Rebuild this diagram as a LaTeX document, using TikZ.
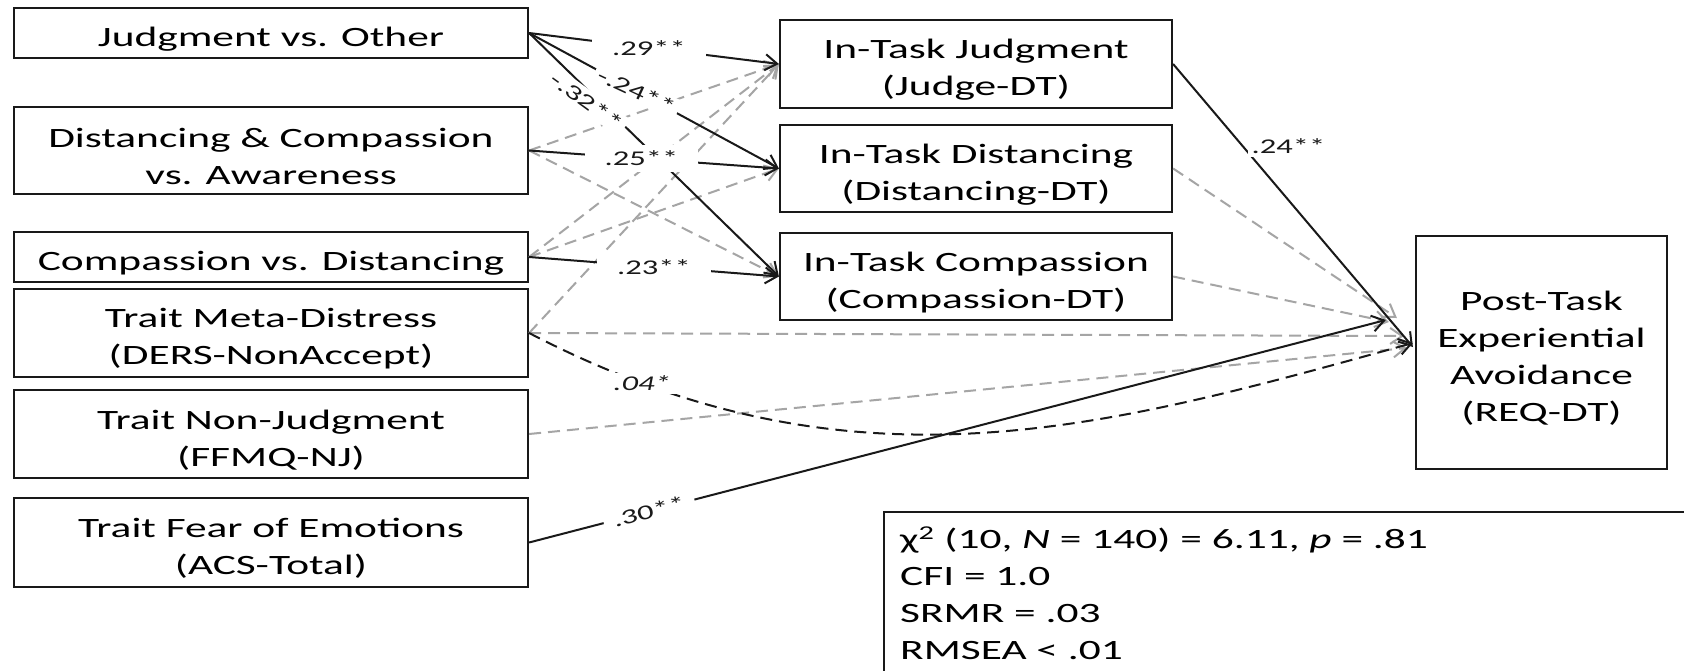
\documentclass[tikz,border=0pt]{standalone}
\usepackage{fontspec}
\setmainfont{Carlito}[FakeStretch=1.55]
\usetikzlibrary{arrows.meta}
\usetikzlibrary{calc}
\definecolor{path-gray}{RGB}{165,165,165}
\definecolor{line-black}{RGB}{25,25,25}
\newcommand{\boxstrut}{\rule{0pt}{31pt}}

\begin{document}
\begin{tikzpicture}[x=1pt, y=-1pt,
  var-box/.style={draw=line-black, line width=2.2pt, inner sep=0pt, align=center, font=\fontsize{28}{37}\selectfont},
  sig-path/.style={line-black, line width=2pt, -{Straight Barb[length=12pt,width=16pt]}},
  ns-path/.style={path-gray, line width=2pt, dash pattern=on 12pt off 7pt, -{Straight Barb[length=12pt,width=16pt]}},
  neg-path/.style={line-black, line width=2pt, dash pattern=on 12pt off 7pt, -{Straight Barb[length=12pt,width=16pt]}},
  coef/.style={fill=white, inner xsep=20pt, inner ysep=6pt, font=\fontsize{21}{25}\selectfont, text=line-black},
  coef-tilt/.style={coef, inner xsep=4pt, inner ysep=3pt}]
\useasboundingbox (0,0) rectangle (1684,671);
\clip (0,0) rectangle (1684,671);
\fill[white] (0,0) rectangle (1684,671);

\node[var-box, minimum width=514pt, minimum height=50pt] (jdg-other) at (271,33) {\boxstrut Judgment vs. Other};
\node[var-box, minimum width=514pt, minimum height=87pt] (dist-comp) at (271,150.5) {\boxstrut Distancing \& Compassion\\vs. Awareness};
\node[var-box, minimum width=514pt, minimum height=50pt] (comp-dist) at (271,257) {\boxstrut Compassion vs. Distancing};
\node[var-box, minimum width=514pt, minimum height=88pt] (meta-distress) at (271,333) {\boxstrut Trait Meta-Distress\\(DERS-NonAccept)};
\node[var-box, minimum width=514pt, minimum height=88pt] (non-judgment) at (271,434) {\boxstrut Trait Non-Judgment\\(FFMQ-NJ)};
\node[var-box, minimum width=514pt, minimum height=89pt] (fear-emo) at (271,542.5) {\boxstrut Trait Fear of Emotions\\(ACS-Total)};

\node[var-box, minimum width=392pt, minimum height=88pt] (task-judge) at (976,64) {\boxstrut In-Task Judgment\\(Judge-DT)};
\node[var-box, minimum width=392pt, minimum height=87pt] (task-dist) at (976,168.5) {\boxstrut In-Task Distancing\\(Distancing-DT)};
\node[var-box, minimum width=392pt, minimum height=87pt] (task-comp) at (976,276.5) {\boxstrut In-Task Compassion\\(Compassion-DT)};

\node[var-box, minimum width=251pt, minimum height=233pt] (post-avoid) at (1541.5,352.5) {\boxstrut Post-Task\\Experiential\\Avoidance\\(REQ-DT)};

\node[draw=line-black, line width=2pt, inner sep=0pt, anchor=north west, minimum width=900pt, minimum height=300pt] (fit-box) at (883,511) {};
\node[anchor=north west, inner sep=0pt, align=left, font=\fontsize{28}{37}\selectfont] (fit-text) at ([shift={(17,16)}]fit-box.north west) {χ\textsuperscript{2} (10, \textit{N} = 140) = 6.11, \textit{p} = .81\\CFI = 1.0\\SRMR = .03\\RMSEA < .01};

\coordinate (tip-a) at ([shift={(-2,-5.5)}]post-avoid.west);
\coordinate (tip-b) at ([shift={(-29,-32.5)}]post-avoid.west);
\coordinate (tip-c) at ([shift={(-18,-34.5)}]post-avoid.west);
\coordinate (tip-d) at ([shift={(-26,-30.5)}]post-avoid.west);
\coordinate (tip-e) at ([shift={(-11,-16.5)}]post-avoid.west);
\coordinate (tip-f) at ([shift={(-8,-4.5)}]post-avoid.west);
\coordinate (tip-g) at ([shift={(-2,-9.5)}]post-avoid.west);

\draw[ns-path] (dist-comp.east) -- (task-judge.west);
\draw[ns-path] (dist-comp.east) -- (task-comp.west);
\draw[ns-path] (comp-dist.east) -- (task-judge.west);
\draw[ns-path] (comp-dist.east) -- (task-dist.west);
\draw[ns-path] (meta-distress.east) -- (task-judge.west);
\draw[ns-path] (meta-distress.east) -- (tip-e);
\draw[ns-path] (non-judgment.east) -- (tip-f);
\draw[ns-path] (task-dist.east) -- (tip-c);
\draw[ns-path] (task-comp.east) -- (tip-d);
\draw[neg-path] (meta-distress.east) .. controls +(322,167) and +(-314,87) .. node[coef-tilt, pos=0.12, inner xsep=8pt, font=\fontsize{21}{25}\selectfont\itshape] {.04*} (tip-g);

\draw[sig-path] (jdg-other.east) -- node[coef-tilt, pos=0.28, xshift=-12pt, rotate=-36] {-.32**} (task-comp.west);
\draw[sig-path] (jdg-other.east) -- node[coef-tilt, pos=0.43, rotate=-25] {-.24**} (task-dist.west);
\draw[sig-path] (jdg-other.east) -- node[coef, pos=0.48] {.29**} (task-judge.west);
\draw[sig-path] (dist-comp.east) -- node[coef, pos=0.45] {.25**} (task-dist.west);
\draw[sig-path] (comp-dist.east) -- node[coef, pos=0.5] {.23**} (task-comp.west);
\draw[sig-path] (task-judge.east) -- node[coef-tilt, pos=0.29, anchor=west, xshift=4pt] {.24**} (tip-a);
\draw[sig-path] (fear-emo.east) -- node[coef-tilt, pos=0.14, sloped, inner xsep=10pt] {.30**} (tip-b);
\end{tikzpicture}
\end{document}
